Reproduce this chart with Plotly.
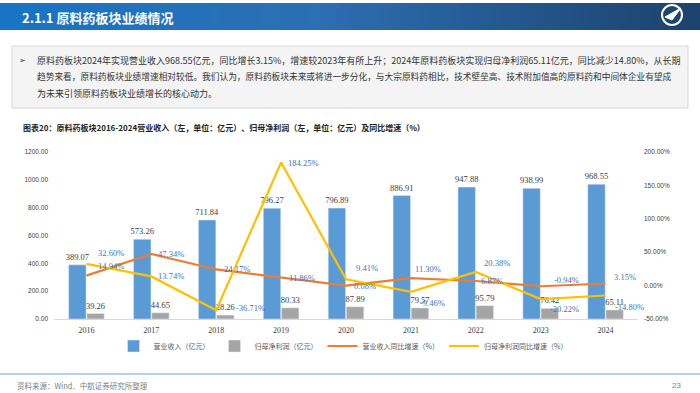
import plotly.graph_objects as go

years = ["2016", "2017", "2018", "2019", "2020", "2021", "2022", "2023", "2024"]
revenue = [389.07, 573.26, 711.84, 796.27, 796.89, 886.91, 947.88, 938.99, 968.55]
profit = [39.26, 44.65, 28.26, 80.33, 87.89, 79.57, 95.79, 76.42, 65.11]
rev_yoy = [14.94, 47.34, 24.17, 11.86, 0.08, 11.30, 6.87, -0.94, 3.15]
prof_yoy = [32.60, 13.74, -36.71, 184.25, 9.41, -9.46, 20.38, -20.22, -14.80]
left_ticks = [0, 200, 400, 600, 800, 1000, 1200]
right_ticks = [-50, 0, 50, 100, 150, 200]

# label offsets in pixels (dx, dy up)
rev_yoy_off = [(10, 10), (5, 0), (6, 0), (6, 0), (6, 0), (2, 9), (3, 0), (11, 6), (6, 7)]
prof_yoy_off = [(10, 11), (5, 0), (18, 2), (5, 0), (8, 11), (7, -11), (6, 9), (7, -10), (7, -12)]

W, H = 700, 393
L, R, T, B = 54, 638, 152, 319
PW, PH = R - L, B - T


def px(x):
    return (x - L) / PW


def py(y):
    return (B - y) / PH


SERIF = "Liberation Serif, Times New Roman, serif"
SANS = "Liberation Sans, Arial, sans-serif"
CJK = "Noto Sans CJK SC, sans-serif"
LBL_BLUE = "#4472C4"

fig = go.Figure()
fig.add_trace(go.Bar(
    x=years, y=revenue, name="营业收入（亿元）", marker_color="#5B9BD5",
    text=[f"{v:.2f}" for v in revenue], textposition="outside", constraintext="none",
    textfont=dict(family=SERIF, size=8.5, color="#404040"), cliponaxis=False,
))
fig.add_trace(go.Bar(
    x=years, y=profit, name="归母净利润（亿元）", marker_color="#A5A5A5",
    text=[f"{v:.2f}" for v in profit], textposition="outside", constraintext="none",
    textfont=dict(family=SERIF, size=8.5, color="#404040"), cliponaxis=False,
))
fig.add_trace(go.Scatter(
    x=years, y=rev_yoy, name="营业收入同比增速（%）", yaxis="y2", mode="lines",
    line=dict(color="#ED7D31", width=2.2), cliponaxis=False,
))
fig.add_trace(go.Scatter(
    x=years, y=prof_yoy, name="归母净利润同比增速（%）", yaxis="y2", mode="lines",
    line=dict(color="#FFC000", width=2.2), cliponaxis=False,
))

shapes = []
# header gradient
stops = [(0.0, (24, 116, 196)), (0.45, (44, 111, 178)), (1.0, (28, 66, 108))]


def col_at(t):
    for (t0, c0), (t1, c1) in zip(stops[:-1], stops[1:]):
        if t0 <= t <= t1:
            f = (t - t0) / (t1 - t0)
            return "rgb(%d,%d,%d)" % tuple(round(a + (b - a) * f) for a, b in zip(c0, c1))
    return "rgb(%d,%d,%d)" % stops[-1][1]


n = 70
for i in range(n):
    x0 = i * W / n
    x1 = (i + 1) * W / n + 0.6
    shapes.append(dict(type="rect", xref="paper", yref="paper", x0=px(x0), x1=px(x1),
                       y0=py(30), y1=py(3), fillcolor=col_at((i + 0.5) / n), line=dict(width=0),
                       layer="below"))
# logo
shapes.append(dict(type="circle", xref="paper", yref="paper", x0=px(662), x1=px(682),
                   y0=py(25), y1=py(5), line=dict(color="white", width=2)))
shapes.append(dict(type="path", xref="paper", yref="paper",
                   path=f"M {px(665)} {py(17)} L {px(681)} {py(8)} L {px(672)} {py(20)} Z",
                   fillcolor="white", line=dict(color="white", width=1)))
# text box
shapes.append(dict(type="rect", xref="paper", yref="paper", x0=px(12), x1=px(688),
                   y0=py(108), y1=py(46), fillcolor="#F4F4F4", line=dict(color="#D6D6D6", width=1),
                   layer="below"))
# footer line
shapes.append(dict(type="line", xref="paper", yref="paper", x0=px(0), x1=px(700),
                   y0=py(374), y1=py(374), line=dict(color="#9DC3E6", width=1.5)))

body_lines = [
    ("原料药板块2024年实现营业收入968.55亿元，同比增长3.15%，增速较2023年有所上升；2024年原料药板块实现归母净利润65.11亿元，同比减少14.80%，从长期", 9, 60),
    ("趋势来看，原料药板块业绩增速相对较低。我们认为，原料药板块未来或将进一步分化，与大宗原料药相比，技术壁垒高、技术附加值高的原料药和中间体企业有望成", 8.7, 77),
    ("为未来引领原料药板块业绩增长的核心动力。", 9, 94),
]

annotations = [
    dict(text="<b>2.1.1 原料药板块业绩情况</b>", x=px(20), y=py(17), xanchor="left", yanchor="middle",
         showarrow=False, xref="paper", yref="paper", font=dict(family=CJK, size=13, color="white")),
    dict(text="➢", x=px(17), y=py(60), xanchor="left", yanchor="middle", showarrow=False,
         xref="paper", yref="paper", font=dict(family="DejaVu Sans", size=8, color="#333333")),
    dict(text="<b>图表20：原料药板块2016-2024营业收入（左，单位：亿元）、归母净利润（左，单位：亿元）及同比增速（%）</b>",
         x=px(21), y=py(127), xanchor="left", yanchor="middle", showarrow=False,
         xref="paper", yref="paper", font=dict(family=CJK, size=8, color="#222222")),
    dict(text="资料来源：Wind、中航证券研究所整理", x=px(15), y=py(385), xanchor="left", yanchor="middle",
         showarrow=False, xref="paper", yref="paper", font=dict(family=CJK, size=7.5, color="#7F7F7F")),
    dict(text="23", x=px(683), y=py(385), xanchor="right", yanchor="middle",
         showarrow=False, xref="paper", yref="paper", font=dict(family=SANS, size=8, color="#7F7F7F")),
]
for txt, sz, yy in body_lines:
    annotations.append(dict(text=txt, x=px(35), y=py(yy), xanchor="left", yanchor="middle",
                            showarrow=False, xref="paper", yref="paper",
                            font=dict(family=CJK, size=sz, color="#333333")))

for vals, offs in ((rev_yoy, rev_yoy_off), (prof_yoy, prof_yoy_off)):
    for idx, (v, (dx, dy)) in enumerate(zip(vals, offs)):
        annotations.append(dict(text=f"{v:.2f}%", x=idx, y=v, xref="x", yref="y2",
                                xanchor="left", yanchor="middle", xshift=dx, yshift=dy,
                                showarrow=False,
                                font=dict(family=SERIF, size=8.5, color=LBL_BLUE)))

fig.update_layout(
    width=W, height=H, margin=dict(l=L, r=W - R, t=T, b=H - B, pad=0),
    paper_bgcolor="white", plot_bgcolor="white",
    barmode="group", bargap=0.44, bargroupgap=0.04,
    showlegend=True,
    legend=dict(orientation="h", x=px(343), xanchor="center", y=py(346), yanchor="middle",
                font=dict(family=CJK, size=7, color="#595959"), itemwidth=30,
                tracegroupgap=0, bgcolor="rgba(0,0,0,0)"),
    xaxis=dict(type="category", range=[-0.5, len(years) - 0.5], showgrid=False, showline=True,
               linecolor="#D9D9D9", linewidth=1,
               ticks="", tickfont=dict(family=SERIF, size=8, color="#404040"), ticklabelstandoff=3),
    yaxis=dict(range=[0, 1200], tickvals=left_ticks, ticktext=[f"{v:.2f}" for v in left_ticks],
               showgrid=False, zeroline=False, showline=False, ticks="",
               tickfont=dict(family=SANS, size=6.5, color="#404040"), ticklabelstandoff=5),
    yaxis2=dict(range=[-50, 200], tickvals=right_ticks, ticktext=[f"{v:.2f}%" for v in right_ticks],
                overlaying="y", side="right", showgrid=False, zeroline=False, showline=False, ticks="",
                tickfont=dict(family=SANS, size=6.5, color="#404040"), ticklabelstandoff=5),
    shapes=shapes, annotations=annotations,
)

fig.write_html("out.html", config={"displayModeBar": False},
               post_script="document.body.style.margin='0px';document.body.style.overflow='hidden';")
